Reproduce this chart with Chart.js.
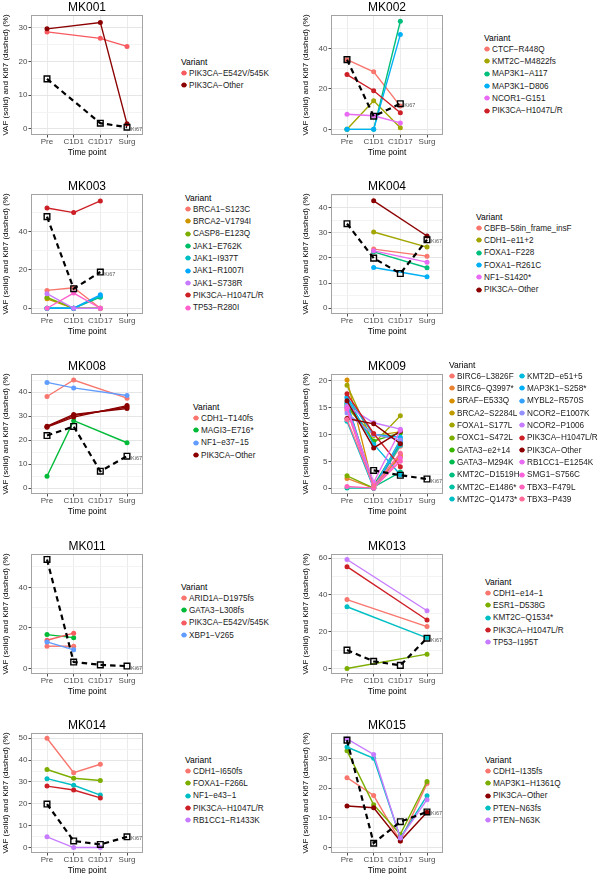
<!DOCTYPE html>
<html>
<head>
<meta charset="utf-8">
<script src="https://cdn.jsdelivr.net/npm/chart.js@4.4.0/dist/chart.umd.min.js"></script>
<style>
  html, body { margin: 0; padding: 0; background: #fff; overflow: hidden; }
  body { font-family: "Liberation Sans", Arial, sans-serif; }
  #wrap { position: relative; width: 600px; height: 874px; }
  #wrap canvas { position: absolute; }
  .legend { position: absolute; color: #1a1a1a; white-space: nowrap; }
  .legend .ttl { height: 10px; line-height: 10px; font-size: 8.5px; color: #000; }
  .legend .items { display: grid; grid-auto-flow: column; }
  .legend .item { display: flex; align-items: center; font-size: 8.2px; }
  .legend .key { width: 6px; height: 6px; margin-right: 2px; flex: none; display: block; }
</style>
</head>
<body>
<div id="wrap"></div>
<script>
const timePoints = ["Pre", "C1D1", "C1D17", "Surg"];

// MK001
const mk001Variants = ["PIK3CA−E542V/545K", "PIK3CA−Other"];
const mk001Vaf = [
  [28.7, null, 26.8, 24.4],
  [29.6, null, 31.5, 1.5],
];
const mk001Ki67 = [14.8, null, 1.7, 0.5];

// MK002
const mk002Variants = ["CTCF−R448Q", "KMT2C−M4822fs", "MAP3K1−A117", "MAP3K1−D806", "NCOR1−G151", "PIK3CA−H1047L/R"];
const mk002Vaf = [
  [34.5, 28.5, 11.5, null],
  [0, 14.1, 0.8, null],
  [0, 0, 53.5, null],
  [0, 0, 46.9, null],
  [7.5, 6.7, 3.2, null],
  [27.1, 19.1, 8.2, null],
];
const mk002Ki67 = [34.5, 6.5, 12.7, null];

// MK003
const mk003Variants = ["BRCA1−S123C", "BRCA2−V1794I", "CASP8−E123Q", "JAK1−E762K", "JAK1−I937T", "JAK1−R1007I", "JAK1−S738R", "PIK3CA−H1047L/R", "TP53−R280I"];
const mk003Vaf = [
  [9.3, 10.7, 0, null],
  [4.9, 0, 0, null],
  [5.6, 0, 0, null],
  [0, 0, 5.8, null],
  [0, 0, 6.3, null],
  [0, 0, 7.0, null],
  [7.6, 0, 0, null],
  [52.3, 49.9, 56.0, null],
  [0, 7.9, 0, null],
];
const mk003Ki67 = [47.8, 10.2, 18.9, null];

// MK004
const mk004Variants = ["CBFB−58in_frame_insF", "CDH1−e11+2", "FOXA1−F228", "FOXA1−R261C", "NF1−S1420*", "PIK3CA−Other"];
const mk004Vaf = [
  [null, 23.5, null, 20.7],
  [null, 30.3, null, 24.3],
  [null, 22.4, null, 16.1],
  [null, 16.2, null, 12.5],
  [null, 22.8, null, 18.3],
  [null, 42.7, null, 28.7],
];
const mk004Ki67 = [33.6, 19.9, 13.8, 27.2];

// MK008 (three PIK3CA-Other mutations share one legend entry)
const mk008Variants = ["CDH1−T140fs", "MAGI3−E716*", "NF1−e37−15", "PIK3CA−Other", "PIK3CA−Other", "PIK3CA−Other"];
const mk008Vaf = [
  [38.2, 45.1, null, 37.5],
  [4.9, 28.1, null, 18.9],
  [44.1, 41.8, null, 38.6],
  [25.8, 30.7, null, 33.2],
  [25.4, 29.6, null, 34.4],
  [25.6, 30.2, null, 33.8],
];
const mk008Ki67 = [21.9, 25.7, 7.0, 13.3];

// MK009
const mk009Variants = [
  "BIRC6−L3826F", "BIRC6−Q3997*", "BRAF−E533Q", "BRCA2−S2284L", "FOXA1−S177L", "FOXC1−S472L",
  "GATA3−e2+14", "GATA3−M294K", "KMT2C−D1519H", "KMT2C−E1486*", "KMT2C−Q1473*", "KMT2D−e51+5",
  "MAP3K1−S258*", "MYBL2−R570S", "NCOR2−E1007K", "NCOR2−P1006", "PIK3CA−H1047L/R", "PIK3CA−Other",
  "PIK3CA−Other", "RB1CC1−E1254K", "SMG1−S756C", "TBX3−F479L", "TBX3−P439",
];
const mk009Vaf = [
  [14.5, 0, 7.8, null],
  [1.8, 0, 6.2, null],
  [20.2, 0, 5.8, null],
  [15.0, 9.8, 10.5, null],
  [19.2, 8.3, 13.5, null],
  [2.3, 0, 8.3, null],
  [15.5, 8.8, 10.3, null],
  [15.8, 0.5, 8.5, null],
  [15.2, 0.2, 3.0, null],
  [0, 0, 9.0, null],
  [12.5, 0, 8.0, null],
  [16.8, 8.2, 2.5, null],
  [17.0, 10.0, 9.5, null],
  [16.0, 0, 8.8, null],
  [14.0, 10.0, 9.0, null],
  [15.3, 12.2, 11.0, null],
  [17.6, 10.2, 4.0, null],
  [16.3, 7.5, 10.6, null],
  [13.0, 12.0, 8.3, null],
  [15.0, 1.1, 10.8, null],
  [14.8, 0, 5.6, null],
  [0.3, 0, 5.0, null],
  [12.8, 0.4, 6.5, null],
];
const mk009Ki67 = [null, 3.3, 2.4, 1.7];

// MK011
const mk011Variants = ["ARID1A−D1975fs", "GATA3−L308fs", "PIK3CA−E542V/545K", "XBP1−V265"];
const mk011Vaf = [
  [11.0, 11.0, null, null],
  [16.7, 15.2, null, null],
  [13.9, 17.4, null, null],
  [13.1, 9.2, null, null],
];
const mk011Ki67 = [53.7, 3.2, 1.8, 1.2];

// MK013
const mk013Variants = ["CDH1−e14−1", "ESR1−D538G", "KMT2C−Q1534*", "PIK3CA−H1047L/R", "TP53−I195T"];
const mk013Vaf = [
  [37.5, null, null, 22.8],
  [0, null, null, 7.8],
  [33.6, null, null, 16.7],
  [55.4, null, null, 26.4],
  [59.3, null, null, 31.4],
];
const mk013Ki67 = [10.0, 3.9, 1.7, 16.5];

// MK014
const mk014Variants = ["CDH1−I650fs", "FOXA1−F266L", "NF1−e43−1", "PIK3CA−H1047L/R", "RB1CC1−R1433K"];
const mk014Vaf = [
  [50.0, 34.2, 38.1, null],
  [35.7, 31.7, 30.7, null],
  [31.5, 28.5, 24.0, null],
  [28.1, 26.3, 22.7, null],
  [4.9, 0, 0, null],
];
const mk014Ki67 = [19.9, 3.0, 1.4, 4.9];

// MK015
const mk015Variants = ["CDH1−I135fs", "MAP3K1−H1361Q", "PIK3CA−Other", "PTEN−N63fs", "PTEN−N63K"];
const mk015Vaf = [
  [23.5, 17.5, 2.2, 21.5],
  [32.5, 14.4, 4.5, 22.2],
  [14.0, 13.4, 2.2, 11.9],
  [33.8, 30.0, 3.3, 17.4],
  [36.5, 31.3, 3.2, 16.1],
];
const mk015Ki67 = [36.1, 1.5, 8.7, 12.0];

// colours: PIK3CA fixed, the rest follow ggplot's default hue palette
const pik3caColours = {
  "PIK3CA−H1047L/R": "#CD1F26",
  "PIK3CA−Other": "#8B0000",
  "PIK3CA−E542V/545K": "#F75A5F",
};
const huePalettes = {
  3: ["#F8766D", "#00BA38", "#619CFF"],
  4: ["#F8766D", "#7CAE00", "#00BFC4", "#C77CFF"],
  5: ["#F8766D", "#A3A500", "#00BF7D", "#00B0F6", "#E76BF3"],
  8: ["#F8766D", "#CD9600", "#7CAE00", "#00BE67", "#00BFC4", "#00A9FF", "#C77CFF", "#FF61CC"],
  20: ["#F8766D", "#EA8331", "#D89000", "#C09B00", "#A3A500", "#7CAE00", "#39B600", "#00BB4E", "#00BF7D", "#00C1A3",
       "#00BFC4", "#00BAE0", "#00B0F6", "#35A2FF", "#9590FF", "#C77CFF", "#E76BF3", "#FA62DB", "#FF62BC", "#FF6A98"],
};

function colourMap(variants) {
  const names = [...new Set(variants)];
  const others = names.filter(n => !pik3caColours[n]);
  const pal = huePalettes[others.length] || [];
  const map = {};
  names.forEach(n => { map[n] = pik3caColours[n] || pal[others.indexOf(n)]; });
  return map;
}

// panel layout (top of plot box per row, legend anchor = "Variant" left / centre y)
const rowTops = [15, 194, 374, 554, 733];
const panels = [
  { title: "MK001", variants: mk001Variants, vaf: mk001Vaf, ki67: mk001Ki67, yMin: -1.8, yMax: 33.7, major: 10, col: 0, row: 0, legend: [181, 62], legendRows: 0 },
  { title: "MK002", variants: mk002Variants, vaf: mk002Vaf, ki67: mk002Ki67, yMin: -2.8, yMax: 56.6, major: 20, col: 1, row: 0, legend: [484, 38], legendRows: 0 },
  { title: "MK003", variants: mk003Variants, vaf: mk003Vaf, ki67: mk003Ki67, yMin: -3.0, yMax: 59.6, major: 20, col: 0, row: 1, legend: [185, 198], legendRows: 0 },
  { title: "MK004", variants: mk004Variants, vaf: mk004Vaf, ki67: mk004Ki67, yMin: -2.3, yMax: 45.4, major: 10, col: 1, row: 1, legend: [476, 217], legendRows: 0 },
  { title: "MK008", variants: mk008Variants, vaf: mk008Vaf, ki67: mk008Ki67, yMin: -2.5, yMax: 47.6, major: 10, col: 0, row: 2, legend: [193, 407], legendRows: 0 },
  { title: "MK009", variants: mk009Variants, vaf: mk009Vaf, ki67: mk009Ki67, yMin: -1.1, yMax: 21.3, major: 5, col: 1, row: 2, legend: [449, 365], legendRows: 11 },
  { title: "MK011", variants: mk011Variants, vaf: mk011Vaf, ki67: mk011Ki67, yMin: -2.7, yMax: 56.4, major: 20, col: 0, row: 3, legend: [181, 587], legendRows: 0 },
  { title: "MK013", variants: mk013Variants, vaf: mk013Vaf, ki67: mk013Ki67, yMin: -3.0, yMax: 62.3, major: 20, col: 1, row: 3, legend: [485, 582], legendRows: 0 },
  { title: "MK014", variants: mk014Variants, vaf: mk014Vaf, ki67: mk014Ki67, yMin: -2.5, yMax: 52.4, major: 10, col: 0, row: 4, legend: [185, 760], legendRows: 0 },
  { title: "MK015", variants: mk015Variants, vaf: mk015Vaf, ki67: mk015Ki67, yMin: -1.8, yMax: 38.5, major: 10, col: 1, row: 4, legend: [485, 760], legendRows: 0 },
];

const toPoints = arr => arr.map((v, i) => (v === null ? null : { x: i, y: v })).filter(p => p);

const panelBorder = {
  id: "panelBorder",
  afterDatasetsDraw(chart) {
    const { ctx, chartArea: a } = chart;
    ctx.save();
    ctx.strokeStyle = "#a3a3a3";
    ctx.lineWidth = 1;
    ctx.strokeRect(Math.round(a.left) + 0.5, Math.round(a.top) + 0.5,
      Math.round(a.right) - Math.round(a.left) - 1, Math.round(a.bottom) - Math.round(a.top) - 1);
    ctx.restore();
  },
};

const ki67Label = {
  id: "ki67Label",
  afterDraw(chart) {
    const idx = chart.data.datasets.findIndex(d => d.label === "Ki67");
    const pts = chart.getDatasetMeta(idx).data;
    const last = pts[pts.length - 1];
    if (!last) return;
    const ctx = chart.ctx;
    ctx.save();
    ctx.font = '5.5px "Liberation Sans", Arial, sans-serif';
    ctx.fillStyle = "#555";
    ctx.textAlign = "left";
    ctx.textBaseline = "middle";
    ctx.fillText("Ki67", last.x + 4, last.y + 2);
    ctx.restore();
  },
};

const wrap = document.getElementById("wrap");

panels.forEach(p => {
  const colours = colourMap(p.variants);
  const left = p.col * 300;
  const top = rowTops[p.row] - 15;

  const canvas = document.createElement("canvas");
  canvas.width = 150;
  canvas.height = 159;
  canvas.style.left = left + "px";
  canvas.style.top = top + "px";
  wrap.appendChild(canvas);

  const n = p.variants.length;
  const datasets = [{
    label: "Ki67",
    data: toPoints(p.ki67),
    borderColor: "#000",
    borderWidth: 2.2,
    borderDash: [5.5, 4],
    pointStyle: "rect",
    pointRadius: 4,
    pointHoverRadius: 4,
    pointBorderColor: "#000",
    pointBorderWidth: 1.4,
    pointBackgroundColor: "rgba(0,0,0,0)",
    order: -1,
  }];
  p.variants.forEach((name, i) => {
    datasets.push({
      label: name,
      data: toPoints(p.vaf[i]),
      borderColor: colours[name],
      backgroundColor: colours[name],
      borderWidth: 1.4,
      pointRadius: 2.5,
      pointHoverRadius: 2.5,
      pointBorderWidth: 0,
      pointBackgroundColor: colours[name],
      order: n - i,
    });
  });

  const minor = p.major / 2;
  const isMajor = v => Math.abs(v / p.major - Math.round(v / p.major)) < 1e-6;

  new Chart(canvas, {
    type: "line",
    data: { datasets },
    plugins: [panelBorder, ki67Label],
    options: {
      responsive: false,
      animation: false,
      events: [],
      layout: { padding: { left: 0, right: 7, top: 0, bottom: 0 } },
      elements: { line: { tension: 0 } },
      plugins: {
        legend: { display: false },
        tooltip: { enabled: false },
        title: {
          display: true,
          text: p.title,
          fullSize: false,
          color: "#000",
          font: { family: '"Liberation Sans", Arial, sans-serif', size: 12, weight: "normal", lineHeight: 1.2 },
          padding: { top: 0, bottom: 0.6 },
        },
      },
      scales: {
        x: {
          type: "linear",
          min: -0.6,
          max: 3.6,
          border: { display: false },
          grid: { color: "#ebebeb", lineWidth: 1, drawTicks: true, tickLength: 2.5, tickColor: "#4d4d4d" },
          ticks: {
            stepSize: 1,
            includeBounds: false,
            autoSkip: false,
            maxRotation: 0,
            padding: 0.5,
            color: "#4d4d4d",
            font: { family: '"Liberation Sans", Arial, sans-serif', size: 8, lineHeight: 1 },
            callback: v => timePoints[v] ?? "",
          },
          title: {
            display: true,
            text: "Time point",
            color: "#000",
            font: { family: '"Liberation Sans", Arial, sans-serif', size: 8.3, lineHeight: 1.2 },
            padding: { top: 0, bottom: 1 },
          },
          afterFit: s => { s.height = 24; },
        },
        y: {
          min: p.yMin,
          max: p.yMax,
          border: { display: false },
          grid: {
            color: c => (isMajor(c.tick.value) ? "#e6e6e6" : "#f3f3f3"),
            lineWidth: 1,
            drawTicks: true,
            tickLength: 2.5,
            tickColor: c => (isMajor(c.tick.value) ? "#4d4d4d" : "rgba(0,0,0,0)"),
          },
          ticks: {
            stepSize: minor,
            includeBounds: false,
            autoSkip: false,
            padding: 1,
            color: "#4d4d4d",
            font: { family: '"Liberation Sans", Arial, sans-serif', size: 8, lineHeight: 1 },
            callback: v => (isMajor(v) ? String(Math.round(v)) : ""),
          },
          title: {
            display: true,
            text: "VAF (solid) and Ki67 (dashed) (%)",
            color: "#000",
            font: { family: '"Liberation Sans", Arial, sans-serif', size: 8, lineHeight: 1.2 },
            padding: { top: 1, bottom: 0 },
          },
          afterFit: s => { s.width = 31; },
        },
      },
    },
  });

  // legend, built from the same variant list (one entry per name)
  const names = [...new Set(p.variants)];
  const rows = p.legendRows || names.length;
  const lg = document.createElement("div");
  lg.className = "legend";
  lg.style.left = p.legend[0] + "px";
  lg.style.top = (p.legend[1] - 5) + "px";
  const ttl = document.createElement("div");
  ttl.className = "ttl";
  ttl.textContent = "Variant";
  lg.appendChild(ttl);
  const items = document.createElement("div");
  items.className = "items";
  items.style.gridTemplateRows = `repeat(${rows}, 12.33px)`;
  if (names.length > rows) items.style.gridTemplateColumns = "70px auto";
  names.forEach(name => {
    const it = document.createElement("div");
    it.className = "item";
    it.innerHTML = `<svg class="key" viewBox="0 0 6 6"><line x1="0" y1="3" x2="6" y2="3" stroke="${colours[name]}" stroke-width="1"/><circle cx="3" cy="3" r="2.5" fill="${colours[name]}"/></svg>`;
    const txt = document.createElement("span");
    txt.textContent = name;
    it.appendChild(txt);
    items.appendChild(it);
  });
  lg.appendChild(items);
  wrap.appendChild(lg);
});
</script>
</body>
</html>
